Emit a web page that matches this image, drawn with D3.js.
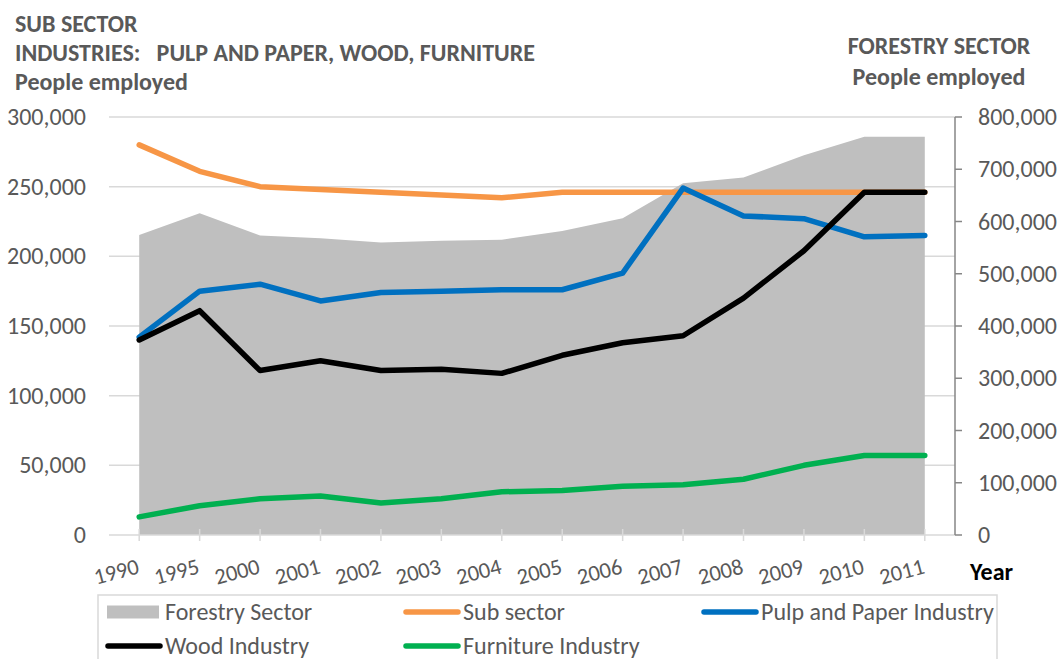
<!DOCTYPE html>
<html>
<head>
<meta charset="utf-8">
<script src="https://cdn.jsdelivr.net/npm/d3@7"></script>
<style>
  html, body { margin: 0; padding: 0; background: #fff; }
  svg { display: block; font-family: Carlito, Calibri, "Open Sans", sans-serif; }
</style>
</head>
<body>
<svg id="chart" width="1059" height="659"></svg>
<script>
// Employment in the forestry sector and its sub-sector industries
const years = ["1990","1995","2000","2001","2002","2003","2004","2005","2006","2007","2008","2009","2010","2011"];
const forestrySector = [574000,616000,573000,568000,560000,563000,565000,582000,606000,673000,684000,727000,762000,762000];
const subSector     = [280000,261000,250000,248000,246000,244000,242000,246000,246000,246000,246000,246000,246000,246000];
const pulpPaper     = [142000,175000,180000,168000,174000,175000,176000,176000,188000,249000,229000,227000,214000,215000];
const woodIndustry  = [140000,161000,118000,125000,118000,119000,116000,129000,138000,143000,170000,204000,246000,246000];
const furniture     = [13000,21000,26000,28000,23000,26000,31000,32000,35000,36000,40000,50000,57000,57000];
const leftTicks  = [0,50000,100000,150000,200000,250000,300000];
const rightTicks = [0,100000,200000,300000,400000,500000,600000,700000,800000];

const svg = d3.select("#chart");
const plot = { left: 109, right: 955, top: 117, bottom: 535 };
const textGrey = "#595959";
const fmt = d3.format(",");

const x = d3.scalePoint().domain(years).range([plot.left, plot.right]).padding(0.5);
const yL = d3.scaleLinear().domain([0, 300000]).range([plot.bottom, plot.top]);
const yR = d3.scaleLinear().domain([0, 800000]).range([plot.bottom, plot.top]);

// horizontal gridlines (left axis)
svg.append("g").selectAll("line").data(leftTicks.filter(d => d > 0)).join("line")
  .attr("x1", plot.left).attr("x2", plot.right)
  .attr("y1", d => yL(d)).attr("y2", d => yL(d))
  .attr("stroke", "#d9d9d9").attr("stroke-width", 1.5);

// forestry sector area on the right axis
svg.append("path").datum(forestrySector)
  .attr("fill", "#bfbfbf")
  .attr("d", d3.area().x((d, i) => x(years[i])).y0(yR(0)).y1(d => yR(d)));

// x axis baseline and ticks
svg.append("line").attr("x1", plot.left).attr("x2", plot.right)
  .attr("y1", plot.bottom).attr("y2", plot.bottom)
  .attr("stroke", "#d9d9d9").attr("stroke-width", 1.5);
svg.append("g").selectAll("line").data(years).join("line")
  .attr("x1", d => x(d)).attr("x2", d => x(d))
  .attr("y1", plot.bottom - 6).attr("y2", plot.bottom + 6)
  .attr("stroke", "#d9d9d9").attr("stroke-width", 1.5);

// sub-sector lines
const line = d3.line().x((d, i) => x(years[i])).y(d => yL(d));
const series = [
  { name: "Sub sector", values: subSector, color: "#f79646" },
  { name: "Pulp and Paper Industry", values: pulpPaper, color: "#0070c0" },
  { name: "Wood Industry", values: woodIndustry, color: "#000000" },
  { name: "Furniture Industry", values: furniture, color: "#00b050" }
];
svg.append("g").selectAll("path").data(series).join("path")
  .attr("fill", "none")
  .attr("stroke", d => d.color)
  .attr("stroke-width", 5.5)
  .attr("stroke-linecap", "round")
  .attr("stroke-linejoin", "round")
  .attr("d", d => line(d.values));

// left axis labels
svg.append("g").selectAll("text").data(leftTicks).join("text")
  .attr("x", 86).attr("y", d => yL(d) + 8)
  .attr("text-anchor", "end")
  .attr("fill", textGrey).attr("font-size", 24)
  .text(d => fmt(d));

// right axis
const rAxis = svg.append("g");
rAxis.append("line").attr("x1", plot.right).attr("x2", plot.right)
  .attr("y1", plot.top).attr("y2", plot.bottom)
  .attr("stroke", "#868686").attr("stroke-width", 1.5);
rAxis.selectAll("line.tick").data(rightTicks).join("line").attr("class", "tick")
  .attr("x1", plot.right).attr("x2", plot.right + 7)
  .attr("y1", d => yR(d)).attr("y2", d => yR(d))
  .attr("stroke", "#868686").attr("stroke-width", 1.5);
rAxis.selectAll("text").data(rightTicks).join("text")
  .attr("x", 978).attr("y", d => yR(d) + 8)
  .attr("fill", textGrey).attr("font-size", 24)
  .text(d => fmt(d));

// rotated year labels
svg.append("g").selectAll("text").data(years).join("text")
  .attr("transform", d => `translate(${x(d) + 1},573) rotate(-15)`)
  .attr("text-anchor", "end")
  .attr("fill", textGrey).attr("font-size", 22.5)
  .text(d => d);

svg.append("text").attr("x", 970).attr("y", 580)
  .attr("font-size", 24).attr("font-weight", "bold").attr("fill", "#000")
  .text("Year");

// axis titles
const leftTitle = ["SUB SECTOR", "INDUSTRIES:   PULP AND PAPER, WOOD, FURNITURE", "People employed"];
svg.append("g").selectAll("text").data(leftTitle).join("text")
  .attr("x", 15).attr("y", (d, i) => [32, 61, 89.5][i])
  .attr("font-size", 24).attr("font-weight", "bold").attr("fill", textGrey)
  .style("white-space", "pre")
  .text(d => d);

const rightTitle = ["FORESTRY SECTOR", "People employed"];
svg.append("g").selectAll("text").data(rightTitle).join("text")
  .attr("x", 939).attr("y", (d, i) => [54, 85][i])
  .attr("text-anchor", "middle")
  .attr("font-size", 24).attr("font-weight", "bold").attr("fill", textGrey)
  .text(d => d);

// legend
const legend = svg.append("g");
legend.append("rect").attr("x", 98).attr("y", 595).attr("width", 899).attr("height", 80)
  .attr("fill", "none").attr("stroke", "#d9d9d9").attr("stroke-width", 1.5);
const legendItems = [
  { name: "Forestry Sector", type: "area", color: "#bfbfbf", col: 0, row: 0 },
  { name: series[0].name, type: "line", color: series[0].color, col: 1, row: 0 },
  { name: series[1].name, type: "line", color: series[1].color, col: 2, row: 0 },
  { name: series[2].name, type: "line", color: series[2].color, col: 0, row: 1 },
  { name: series[3].name, type: "line", color: series[3].color, col: 1, row: 1 }
];
const colX = [107, 405, 703];
const rowY = [612, 646];
const li = legend.selectAll("g").data(legendItems).join("g")
  .attr("transform", d => `translate(${colX[d.col]},${rowY[d.row]})`);
li.filter(d => d.type === "area").append("rect")
  .attr("x", 0).attr("y", -6.5).attr("width", 52).attr("height", 13).attr("fill", d => d.color);
li.filter(d => d.type === "line").append("line")
  .attr("x1", 1).attr("x2", 53).attr("y1", 0).attr("y2", 0)
  .attr("stroke", d => d.color).attr("stroke-width", 5.5).attr("stroke-linecap", "round");
li.append("text").attr("x", 58).attr("y", 7.5)
  .attr("font-size", 24).attr("fill", textGrey)
  .text(d => d.name);
</script>
</body>
</html>
